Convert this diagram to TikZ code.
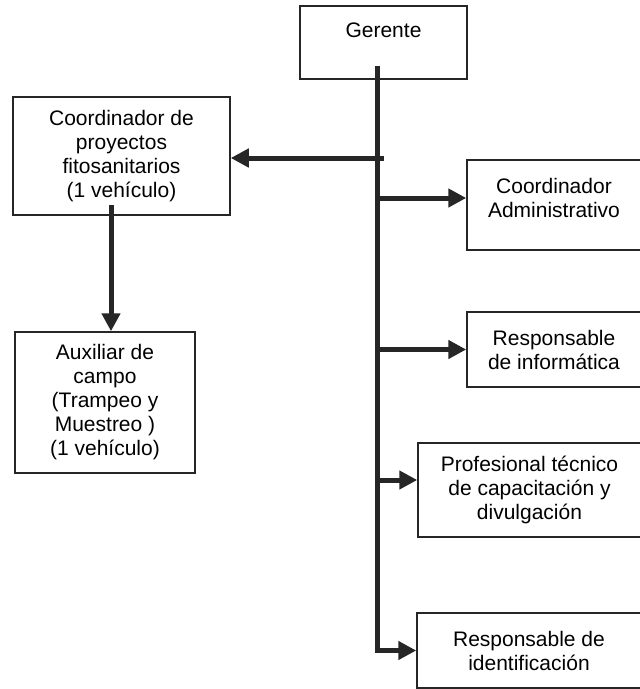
\documentclass[tikz,border=0pt]{standalone}
\usepackage{fontspec}
\setmainfont{Liberation Sans}
\usetikzlibrary{arrows.meta}
\definecolor{ink}{HTML}{262626}

\begin{document}
\begin{tikzpicture}[x=1pt,y=-1pt,
        box/.style={shape=rectangle,draw=ink,line width=1.5pt,align=center,
            font=\fontsize{21}{24}\selectfont},
        arrow/.style={draw=ink,line width=5pt,
            -{Triangle[length=18pt,width=18pt]}}]
        \useasboundingbox (0,0) rectangle (640,689);

        \node[box,minimum width=167,inner ysep=4pt,text height=27pt,text depth=38pt] (ger) at (383.5,42.5) {Gerente};
        \node[box,minimum width=217,minimum height=118] (coord) at (121.5,156) {Coordinador de\\proyectos\\fitosanitarios\\(1 vehículo)};
        \node[box,minimum width=180,minimum height=141] (aux) at (105,402.5) {Auxiliar de\\campo\\(Trampeo y\\Muestreo )\\(1 vehículo)};
        \node[box,minimum width=174,minimum height=90] (adm) at (554,205) {Coordinador\\Administrativo\\[-10pt]~};
        \node[box,minimum width=174,minimum height=75] (info) at (554,349.5) {Responsable\\de informática};
        \node[box,minimum width=223,minimum height=94] (prof) at (529.5,490) {Profesional técnico\\de capacitación y\\divulgación};
        \node[box,minimum width=224,minimum height=75] (ident) at (529,650.5) {Responsable de\\identificación};

        \coordinate (top) at (377,66);
        \coordinate (coord-in) at ([yshift=-2pt]coord.east);
        \coordinate (adm-in) at ([yshift=7pt]adm.west);
        \coordinate (prof-in) at ([yshift=10pt]prof.west);
        \coordinate (down) at ([xshift=-10.5pt,yshift=11pt]coord.south);

        \draw[arrow] (top) |- (ident.west);
        \draw[arrow] (top |- coord-in) ++(7,0) -- (coord-in);
        \draw[arrow] (top |- adm-in) -- (adm-in);
        \draw[arrow] (top |- info.west) -- (info.west);
        \draw[arrow] (top |- prof-in) -- (prof-in);
        \draw[arrow] (down) -- (down |- aux.north);
    \end{tikzpicture}
\end{document}
